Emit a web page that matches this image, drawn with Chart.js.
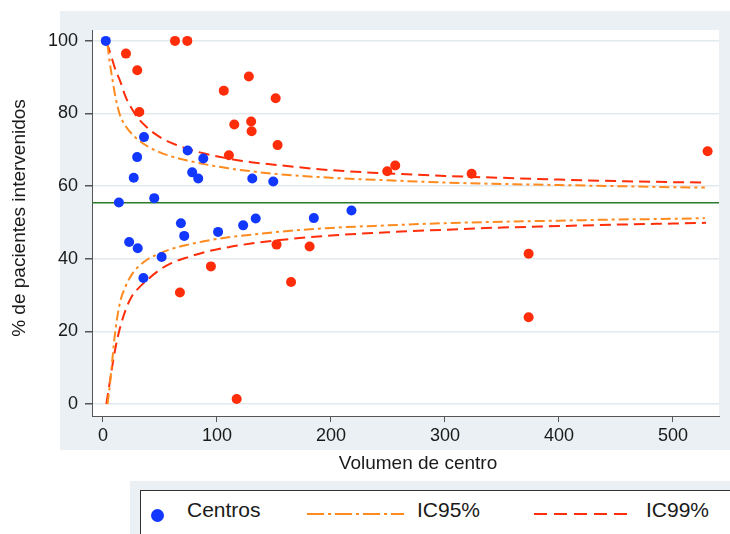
<!DOCTYPE html>
<html lang="es">
<head>
<meta charset="utf-8">
<title>Volumen de centro</title>
<script src="https://cdn.jsdelivr.net/npm/chart.js@4"></script>
<style>
  html, body { margin: 0; padding: 0; background: #fff; }
  #wrap { position: relative; width: 730px; height: 534px; overflow: hidden;
          font-family: "Liberation Sans", Arial, sans-serif; color: #1a1a1a; }
  #chart { position: absolute; left: 0; top: 0; }
  .xtitle { position: absolute; left: 318px; top: 452px; width: 200px; text-align: center;
            font-size: 19px; line-height: 22px; }
  .ytitle { position: absolute; left: -131.5px; top: 206.5px; width: 300px; height: 22px; text-align: center;
            font-size: 19px; line-height: 22px; transform: rotate(-90deg); white-space: nowrap; }
  .leg-panel { position: absolute; left: 130px; top: 481px; width: 600px; height: 60px; background: #eaf0f3; }
  .leg-box { position: absolute; left: 140px; top: 490px; width: 620px; height: 60px;
             background: #fff; border: 1.5px solid #333; box-sizing: border-box; }
  .leg-dot { position: absolute; left: 150.5px; top: 508.5px; width: 13px; height: 13px; border-radius: 50%; background: #1238ff; }
  .leg-text { position: absolute; top: 498px; font-size: 21px; line-height: 24px; white-space: nowrap; }
  .leg-line { position: absolute; top: 512px; }
</style>
</head>
<body>
<div id="wrap">
  <canvas id="chart" width="730" height="534"></canvas>
  <div class="ytitle">% de pacientes intervenidos</div>
  <div class="xtitle">Volumen de centro</div>
  <div class="leg-panel"></div>
  <div class="leg-box"></div>
  <div class="leg-dot"></div>
  <div class="leg-text" style="left:187px">Centros</div>
  <svg class="leg-line" style="left:307px" width="97" height="4"><line x1="0" y1="2" x2="97" y2="2" stroke="#ff8a1e" stroke-width="2" stroke-dasharray="17 4 3 4"/></svg>
  <div class="leg-text" style="left:417px">IC95%</div>
  <svg class="leg-line" style="left:534px" width="97" height="4"><line x1="0" y1="2" x2="97" y2="2" stroke="#ff2d0a" stroke-width="2" stroke-dasharray="13 7"/></svg>
  <div class="leg-text" style="left:646px">IC99%</div>
</div>
<script>
// centros dentro de los límites (azul)
const blueX = [2.5, 14, 23, 27, 30, 30.5, 35.5, 36, 45, 51.5, 68.4, 71.3, 74.3, 78.3, 83.6, 88, 101, 123, 131, 134, 149.4, 185, 218];
const blueY = [100, 55.5, 44.6, 62.3, 68, 42.9, 34.7, 73.5, 56.7, 40.5, 49.8, 46.3, 69.8, 63.8, 62.1, 67.6, 47.4, 49.2, 62.1, 51.1, 61.3, 51.2, 53.3];

// centros fuera de los límites (rojo)
const redX = [20.2, 30.1, 31.9, 63.2, 74, 106, 110.5, 115.2, 128, 130, 130.4, 151.5, 153.2, 249.4, 256.4, 323.4, 530.4,
              67.5, 94.7, 117.3, 152.3, 165, 181.3, 373.4, 373.4];
const redY = [96.5, 91.9, 80.4, 100, 100, 86.3, 68.5, 77, 90.2, 77.8, 75.1, 84.2, 71.3, 64.1, 65.7, 63.4, 69.6,
              30.7, 37.9, 1.4, 43.9, 33.6, 43.4, 41.4, 23.9];

// media global
const meanY = 55.4;

// límites del embudo
const ic95X  = [4, 6, 8, 11, 15, 20, 25, 30, 40, 50, 60, 75, 90, 110, 130, 150, 200, 250, 300, 350, 400, 450, 500, 528];
const ic95Hi = [99, 94, 90, 84.5, 79.5, 76.5, 74.5, 73, 70.8, 69.3, 68.2, 67, 66, 64.9, 64.1, 63.4, 62.3, 61.6, 61, 60.6, 60.3, 60, 59.7, 59.6];
const ic95Lo = [0, 5, 11.5, 20.5, 28, 32.5, 35.5, 37.5, 40, 41.5, 42.7, 43.9, 44.9, 45.9, 46.6, 47.3, 48.5, 49.2, 49.8, 50.2, 50.5, 50.8, 51, 51.2];

const ic99X  = [3, 5, 8, 11, 15, 20, 25, 30, 40, 50, 60, 75, 90, 110, 130, 150, 200, 250, 300, 350, 400, 450, 500, 529];
const ic99Hi = [99.5, 98, 95, 92, 89, 84.5, 81.5, 79, 75.8, 73.5, 71.9, 70.2, 68.9, 67.6, 66.6, 65.9, 64.4, 63.5, 62.8, 62.3, 61.8, 61.4, 61.1, 61];
const ic99Lo = [0, 4, 10, 15.5, 21, 26, 29.5, 31.5, 34.5, 37, 38.8, 40.5, 41.9, 43.2, 44.2, 45, 46.4, 47.3, 48, 48.6, 49, 49.4, 49.7, 49.9];

const xTicks = [0, 100, 200, 300, 400, 500];
const yTicks = [0, 20, 40, 60, 80, 100];
const xMin = -9.6, xMax = 540.4;
const yMin = -3.3, yMax = 103;

const FONT = '"Liberation Sans", Arial, sans-serif';
const BLUE = '#1238ff';
const RED = '#ff2d0a';
const ORANGE = '#ff8a1e';
const GREEN = '#2b7a2b';

const pts = (xs, ys) => xs.map((x, i) => ({ x, y: ys[i] }));

function curve(xs, ys, color, dash) {
    return {
        type: 'line',
        data: pts(xs, ys),
        borderColor: color,
        borderWidth: 2,
        borderDash: dash,
        pointRadius: 0,
        showLine: true,
        cubicInterpolationMode: 'monotone',
        fill: false
    };
}

// fondo gris del gráfico y área blanca
const panelPlugin = {
    id: 'panel',
    beforeDraw(chart) {
        const { ctx, chartArea: a } = chart;
        ctx.save();
        ctx.fillStyle = '#ffffff';
        ctx.fillRect(0, 0, chart.width, chart.height);
        ctx.fillStyle = '#eaf0f3';
        ctx.fillRect(60, 11, chart.width - 60, 439);
        ctx.fillStyle = '#ffffff';
        ctx.fillRect(a.left, a.top, a.right - a.left, a.bottom - a.top);
        ctx.restore();
    }
};

new Chart(document.getElementById('chart').getContext('2d'), {
    type: 'scatter',
    data: {
        datasets: [
            { label: 'Centros', data: pts(blueX, blueY), backgroundColor: BLUE, pointRadius: 5, borderWidth: 0 },
            { label: 'Fuera', data: pts(redX, redY), backgroundColor: RED, pointRadius: 5, borderWidth: 0 },
            curve(ic95X, ic95Hi, ORANGE, [10, 4, 3, 4]),
            curve(ic95X, ic95Lo, ORANGE, [10, 4, 3, 4]),
            curve(ic99X, ic99Hi, RED, [11, 6]),
            curve(ic99X, ic99Lo, RED, [11, 6]),
            { type: 'line', data: [{ x: xMin, y: meanY }, { x: xMax, y: meanY }], borderColor: GREEN, borderWidth: 1.5, pointRadius: 0, showLine: true }
        ]
    },
    options: {
        responsive: false,
        animation: false,
        devicePixelRatio: 1,
        layout: { padding: { left: 0, top: 30, right: 11, bottom: 0 } },
        plugins: {
            legend: { display: false },
            tooltip: { enabled: false }
        },
        scales: {
            x: {
                type: 'linear',
                min: xMin,
                max: xMax,
                afterFit: s => { s.height = 118; },
                afterBuildTicks: s => { s.ticks = xTicks.map(v => ({ value: v })); },
                grid: { drawOnChartArea: false, drawTicks: true, tickLength: 6, tickColor: '#555' },
                border: { color: '#555', width: 1 },
                ticks: { padding: 3, color: '#1a1a1a', autoSkip: false, maxRotation: 0, font: { size: 18, family: FONT } }
            },
            y: {
                type: 'linear',
                min: yMin,
                max: yMax,
                afterFit: s => { s.width = 92; },
                afterBuildTicks: s => { s.ticks = yTicks.map(v => ({ value: v })); },
                grid: { color: '#e3eaee', lineWidth: 1.5, tickLength: 7, tickColor: '#555' },
                border: { color: '#555', width: 1 },
                ticks: { padding: 7, color: '#1a1a1a', autoSkip: false, font: { size: 18, family: FONT } }
            }
        }
    },
    plugins: [panelPlugin]
});
</script>
</body>
</html>
